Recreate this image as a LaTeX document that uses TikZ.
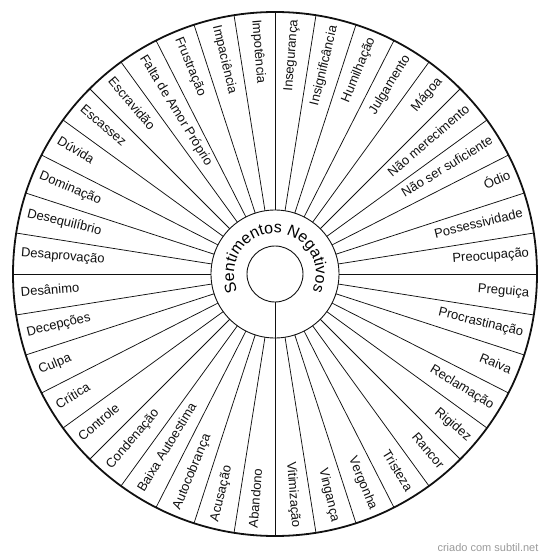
\documentclass[tikz,border=0pt]{standalone}
\usepackage{fontspec}
\setmainfont{Liberation Sans}
\usetikzlibrary{decorations.text}
\definecolor{cink}{HTML}{111111}
\definecolor{cstamp}{HTML}{9A9A9A}
\tikzset{
  every picture/.style={x=1pt, y=1pt},
  disc/.style={circle, draw=cink, inner sep=0pt, outer sep=0pt, minimum size=#1, line width=0.9pt},
  spoke/.style={draw=cink, line width=0.75pt},
  petal/.style={inner sep=0pt, text=cink, font=\fontsize{13}{15}\selectfont},
  stamp/.style={font=\fontsize{11}{13}\selectfont, text=cstamp},
}
\newcommand{\hubfont}{\fontsize{16}{18}\selectfont}

\begin{document}
\begin{tikzpicture}
  \useasboundingbox (-275,-286) rectangle (275,274);
  % circles
  \node[disc=524pt, line width=1.8pt] (rim) at (0,0) {};
  \node[disc=128pt] (ring) at (0,0) {};
  \node[disc=56pt] (hub) at (0,0) {};
  % spokes
  \foreach \a in {0,9,...,351} \draw[spoke] (ring.\a) -- (rim.\a);
  \draw[spoke] (hub.south) -- (ring.south);
  % centre title
  \path[decorate, decoration={text along path, text={|\hubfont|Sentimentos Negativos}, text align=center}]
    (230:41) arc[start angle=230, end angle=-50, radius=41];
  % labels, clockwise from the top
  \foreach \txt [count=\i from 0] in {Insegurança, Insignificância, Humilhação, Julgamento, Mágoa,
      Não merecimento, Não ser suficiente, Ódio, Possessividade, Preocupação,
      Preguiça, Procrastinação, Raiva, Reclamação, Rigidez, Rancor, Tristeza, Vergonha, Vingança, Vitimização,
      Abandono, Acusação, Autocobrança, Baixa Autoestima, Condenação, Controle, Crítica, Culpa, Decepções, Desânimo,
      Desaprovação, Desequilíbrio, Dominação, Dúvida, Escassez, Escravidão, Falta de Amor Próprio,
      Frustração, Impaciência, Impotência} {
    \pgfmathsetmacro{\ang}{85.5-9*\i}
    \ifnum\i<20
      \node[petal, anchor=mid east, rotate=\ang] (w\i) at (\ang:255) {\txt};
    \else
      \pgfmathsetmacro{\rot}{\ang+180}
      \node[petal, anchor=mid west, rotate=\rot] (w\i) at (\ang:255) {\txt};
    \fi
  }
  \node[stamp] (credit) at (213,-274) {criado com subtil.net};
\end{tikzpicture}
\end{document}
